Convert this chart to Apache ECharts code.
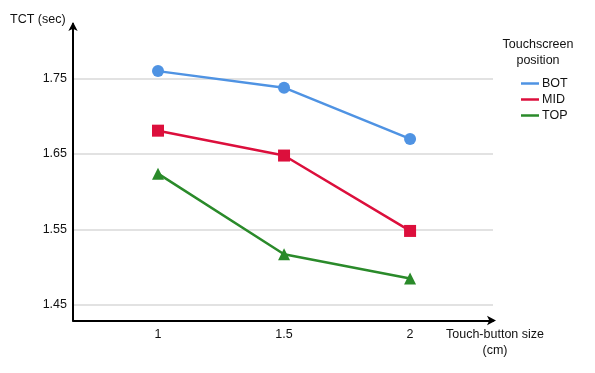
<!DOCTYPE html>
<html><head><meta charset="utf-8">
<script src="https://cdn.jsdelivr.net/npm/echarts@6/dist/echarts.min.js"></script>
<style>html,body{margin:0;padding:0;background:#fff}#c{width:595px;height:373px}</style>
</head><body><div id="c"></div>
<script>
const sizes = [1, 1.5, 2];
const sizeLabels = ['1', '1.5', '2'];
const botValues = [1.760, 1.738, 1.670];
const midValues = [1.681, 1.648, 1.548];
const topValues = [1.624, 1.517, 1.485];
const yTicks = [1.45, 1.55, 1.65, 1.75];
const seriesNames = ['BOT', 'MID', 'TOP'];

const font = 'Liberation Sans, Arial, sans-serif';
const fs = 12.5;
const colors = ['#4f93e3', '#dc0f3c', '#2a8a2a'];
const symbols = ['circle', 'rect', 'triangle'];
const symbolSizes = [12, 12, 12];
const allValues = [botValues, midValues, topValues];

const chart = echarts.init(document.getElementById('c'), null, {renderer: 'canvas'});
chart.setOption({
  animation: false,
  grid: {left: 73, right: 102, top: 24, bottom: 52.5, containLabel: false},
  xAxis: {
    type: 'value', min: 0.6627, max: 2.329,
    axisLine: {show: true, lineStyle: {color: '#000', width: 2}, symbol: ['none', 'arrow'], symbolSize: [7, 9], symbolOffset: [0, 3]},
    axisTick: {show: false},
    splitLine: {show: false},
    axisLabel: {customValues: sizes, formatter: v => sizeLabels[sizes.indexOf(v)] ?? '', color: '#111', fontFamily: font, fontSize: fs, margin: 8}
  },
  yAxis: {
    type: 'value', min: 1.4292, max: 1.8225,
    axisLine: {show: true, lineStyle: {color: '#000', width: 2}, symbol: ['none', 'arrow'], symbolSize: [7, 9], symbolOffset: [0, 2]},
    axisTick: {show: false, customValues: yTicks},
    axisLabel: {customValues: yTicks, formatter: v => v.toFixed(2), color: '#111', fontFamily: font, fontSize: fs, margin: 6},
    splitLine: {show: true, lineStyle: {color: '#d9d9d9', width: 1.5}}
  },
  legend: {
    orient: 'vertical', left: 516, top: 72, itemWidth: 18, itemHeight: 2.5, itemGap: 3,
    icon: 'rect',
    textStyle: {fontFamily: font, fontSize: fs, color: '#111', padding: [0, 0, 0, -2]},
    data: seriesNames
  },
  graphic: [
    {type: 'text', left: 10, top: 13, style: {text: 'TCT (sec)', font: fs + 'px ' + font, fill: '#111'}},
    {type: 'text', x: 538, y: 37, style: {text: 'Touchscreen\nposition', font: fs + 'px ' + font, fill: '#111', align: 'center', lineHeight: 16}},
    {type: 'text', x: 495, y: 327, style: {text: 'Touch-button size\n(cm)', font: fs + 'px ' + font, fill: '#111', align: 'center', lineHeight: 16}}
  ],
  series: seriesNames.map((n, i) => ({
    name: n, type: 'line',
    data: sizes.map((s, j) => [s, allValues[i][j]]),
    symbol: symbols[i], symbolSize: symbolSizes[i], showSymbol: true,
    lineStyle: {color: colors[i], width: 2.5},
    itemStyle: {color: colors[i]}
  }))
});
</script></body></html>
